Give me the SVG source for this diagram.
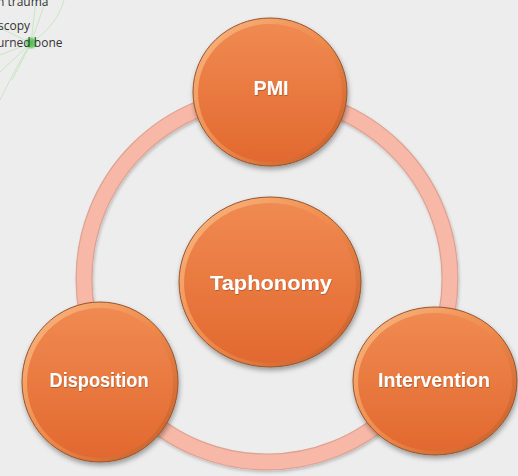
<svg xmlns="http://www.w3.org/2000/svg" width="518" height="476" viewBox="0 0 518 476">
<defs>
<style>
.lbl{font-family:"Liberation Sans",Arial,sans-serif;font-weight:bold;fill:#fff;text-anchor:middle;filter:url(#tsh)}
.bg-txt{font-family:"Open Sans","Liberation Sans",sans-serif;font-size:12px;fill:#333}
.rim{fill:url(#rimG);stroke:#97532c;stroke-width:1}
.face{fill:url(#faceG)}
.gl{stroke:#bfe4b8;stroke-width:1;fill:none;opacity:0.8}
</style>
<linearGradient id="rimG" x1="0" y1="0" x2="1" y2="1">
<stop offset="0" stop-color="#f9bb85"/>
<stop offset="0.5" stop-color="#ef8a4c"/>
<stop offset="1" stop-color="#c25a26"/>
</linearGradient>
<linearGradient id="faceG" x1="0" y1="0" x2="0" y2="1">
<stop offset="0" stop-color="#f08a52"/>
<stop offset="1" stop-color="#e2692f"/>
</linearGradient>
<radialGradient id="dotG">
<stop offset="0" stop-color="#4cc04c"/>
<stop offset="0.6" stop-color="#6ccf6c"/>
<stop offset="1" stop-color="#a8e2a8" stop-opacity="0"/>
</radialGradient>
<filter id="sh" x="-20%" y="-20%" width="140%" height="140%">
<feDropShadow dx="1" dy="3" stdDeviation="2.5" flood-color="#000" flood-opacity="0.35"/>
</filter>
<filter id="rsh" x="-10%" y="-10%" width="120%" height="120%">
<feDropShadow dx="1" dy="2" stdDeviation="1.5" flood-color="#000" flood-opacity="0.2"/>
</filter>
<filter id="tsh" x="-10%" y="-30%" width="120%" height="160%">
<feDropShadow dx="0.5" dy="1" stdDeviation="0.6" flood-color="#7a3a10" flood-opacity="0.5"/>
</filter>
</defs>
<rect width="518" height="476" fill="#ededed"/>
<g id="background-graph">
<path class="gl" d="M31 43 L46 0 M31 43 L36 0 M31 43 L0 28 M31 43 L0 55 M31 43 L0 72 M31 43 L12 80 M31 43 C20 60 10 80 0 100 M31 43 C50 30 60 15 64 0"/>
<circle cx="31" cy="43" r="7" fill="url(#dotG)"/>
<text class="bg-txt" x="-3" y="6">n trauma</text>
<text class="bg-txt" x="-2" y="30">scopy</text>
<text class="bg-txt" x="-3" y="47">urned bone</text>
</g>
<g id="connectors">
<circle cx="267" cy="279" r="183" fill="none" stroke="#dfa292" stroke-width="17" filter="url(#rsh)"/>
<circle cx="267" cy="279" r="183" fill="none" stroke="#f8b8a8" stroke-width="14.5"/>
</g>
<g id="node-pmi" filter="url(#sh)">
<ellipse class="rim" cx="270" cy="92" rx="77" ry="74"/>
<ellipse class="face" cx="270" cy="93" rx="72" ry="69"/>
<text class="lbl" x="271" y="95" font-size="21" textLength="35" lengthAdjust="spacingAndGlyphs">PMI</text>
</g>
<g id="node-taphonomy" filter="url(#sh)">
<ellipse class="rim" cx="270" cy="282" rx="91" ry="85"/>
<ellipse class="face" cx="270" cy="283" rx="86" ry="80"/>
<text class="lbl" x="271" y="290" font-size="21" textLength="122" lengthAdjust="spacingAndGlyphs">Taphonomy</text>
</g>
<g id="node-disposition" filter="url(#sh)">
<ellipse class="rim" cx="100" cy="382" rx="78" ry="80"/>
<ellipse class="face" cx="100" cy="383" rx="73" ry="75"/>
<text class="lbl" x="99" y="387" font-size="20" textLength="99" lengthAdjust="spacingAndGlyphs">Disposition</text>
</g>
<g id="node-intervention" filter="url(#sh)">
<ellipse class="rim" cx="435" cy="381" rx="82" ry="74"/>
<ellipse class="face" cx="435" cy="382" rx="77" ry="69"/>
<text class="lbl" x="434" y="387" font-size="20" textLength="112" lengthAdjust="spacingAndGlyphs">Intervention</text>
</g>
</svg>
